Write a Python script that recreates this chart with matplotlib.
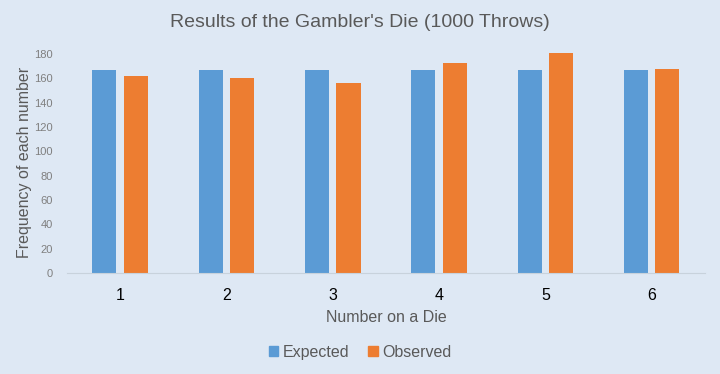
import numpy as np
import matplotlib.pyplot as plt
from matplotlib.patches import Patch

plt.rcParams['font.family'] = ['Liberation Sans', 'DejaVu Sans']

# data
faces = ['1', '2', '3', '4', '5', '6']
expected = [166.67, 166.67, 166.67, 166.67, 166.67, 166.67]
observed = [162, 160, 156, 173, 181, 168]

bg = '#dee8f4'
blue = '#5b9bd5'
orange = '#ed7d31'

fig = plt.figure(figsize=(7.2, 3.74), dpi=100, facecolor=bg)
ax = fig.add_axes([0.093, 0.270, 0.886, 0.592], facecolor=bg)

x = np.arange(len(faces))
w = 0.226
ax.bar(x - 0.148, expected, w, color=blue, label='Expected')
ax.bar(x + 0.148, observed, w, color=orange, label='Observed')

ax.set_xlim(-0.5, 5.5)
ax.set_ylim(0, 182)
ax.set_yticks(range(0, 181, 20))
ax.set_xticks(x)
ax.set_xticklabels(faces, fontsize=11.5, color='black')
ax.tick_params(axis='y', labelsize=8, labelcolor='#7f7f7f', length=0, pad=10)
ax.tick_params(axis='x', length=0, pad=11)

for s in ['top', 'right', 'left']:
    ax.spines[s].set_visible(False)
ax.spines['bottom'].set_color('#c8d2dc')

ax.set_xlabel('Number on a Die', fontsize=11.5, color='#595959', labelpad=5)
ax.set_ylabel('Frequency of each number', fontsize=11.5, color='#595959', labelpad=2)
fig.text(0.5, 0.94, "Results of the Gambler's Die (1000 Throws)",
         ha='center', va='center', fontsize=14, color='#595959')

handles = [Patch(color=blue, label='Expected'), Patch(color=orange, label='Observed')]
fig.legend(handles=handles, loc='center', bbox_to_anchor=(0.5, 0.058), ncol=2,
           frameon=False, fontsize=11.5, handlelength=0.6, handleheight=0.6,
           handletextpad=0.25, columnspacing=1.2, labelcolor='#595959')

plt.savefig('out.png', dpi=100, facecolor=bg)
